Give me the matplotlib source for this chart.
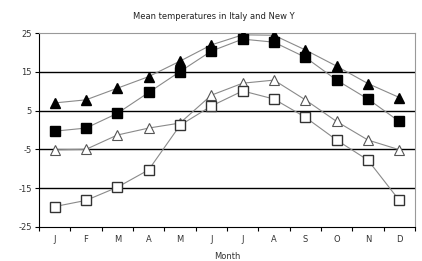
import matplotlib.pyplot as plt

# Monthly mean temperatures
months = ['J', 'F', 'M', 'A', 'M', 'J', 'J', 'A', 'S', 'O', 'N', 'D']
italy_max = [7, 7.8, 10.8, 13.8, 17.8, 22, 24.6, 24.5, 20.7, 16.5, 12, 8.4]
italy_min = [-0.3, 0.5, 4.3, 9.7, 15.1, 20.4, 23.5, 22.7, 18.8, 12.9, 8, 2.2]
ny_max = [-5.1, -5, -1.3, 0.5, 1.8, 9, 12.1, 12.9, 7.8, 2.2, -2.6, -5.1]
ny_min = [-19.8, -18.2, -14.8, -10.3, 1.2, 6.2, 10.1, 8, 3.3, -2.6, -7.8, -18.2]
y_ticks = [25, 15, 5, -5, -15, -25]

x = list(range(len(months)))
line_color = '#8a8a8a'
ms = 7

fig = plt.figure(figsize=(4.22, 2.61), dpi=100)
ax = fig.add_axes([0.0924, 0.1314, 0.891, 0.741])

for yv in [15, 5, -5, -15]:
    ax.axhline(yv, color='black', linewidth=1.0, zorder=1)

ax.plot(x, italy_max, color=line_color, linewidth=0.8, marker='^', markersize=ms,
        markerfacecolor='black', markeredgecolor='black', zorder=3)
ax.plot(x, italy_min, color=line_color, linewidth=0.8, marker='s', markersize=ms,
        markerfacecolor='black', markeredgecolor='black', zorder=3)
ax.plot(x, ny_max, color=line_color, linewidth=0.8, marker='^', markersize=ms,
        markerfacecolor='white', markeredgecolor='#555555', markeredgewidth=0.8, zorder=3)
ax.plot(x, ny_min, color=line_color, linewidth=0.8, marker='s', markersize=ms,
        markerfacecolor='white', markeredgecolor='#333333', markeredgewidth=1.0, zorder=3)

ax.set_xlim(-0.5, 11.5)
ax.set_ylim(-25, 25)
ax.set_yticks(y_ticks)
ax.set_yticklabels([str(v) for v in y_ticks], fontsize=6, color='#333333')
ax.tick_params(axis='y', length=3, width=0.8, pad=2)

# category boundaries as major ticks, labels at centers
ax.set_xticks([i - 0.5 for i in range(13)])
ax.set_xticklabels([])
ax.set_xticks(x, minor=True)
ax.set_xticklabels(months, minor=True, fontsize=6, color='#333333')
ax.tick_params(axis='x', which='major', length=3, width=0.8)
ax.tick_params(axis='x', which='minor', length=0, pad=6)

ax.spines['top'].set_color('#999999')
ax.spines['right'].set_color('#999999')
ax.spines['left'].set_color('black')
ax.spines['bottom'].set_color('black')
for s in ax.spines.values():
    s.set_linewidth(0.8)

ax.set_xlabel('Month', fontsize=6, color='#333333', labelpad=6)
fig.text(0.315, 0.935, 'Mean temperatures in Italy and New Y', fontsize=6,
         color='#222222', ha='left', va='center')

plt.savefig('out.png', dpi=100)
